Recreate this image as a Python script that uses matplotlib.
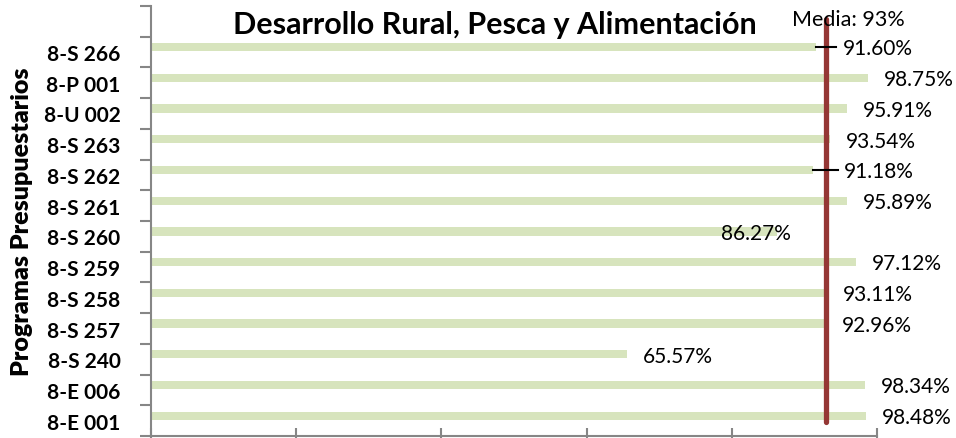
import numpy as np
import matplotlib
matplotlib.use("Agg")
import matplotlib.pyplot as plt

# bottom to top, as drawn in the chart
programas = ["8-E 001", "8-E 006", "8-S 240", "8-S 257", "8-S 258", "8-S 259",
             "8-S 260", "8-S 261", "8-S 262", "8-S 263", "8-U 002", "8-P 001",
             "8-S 266"]
valores = [98.48, 98.34, 65.57, 92.96, 93.11, 97.12,
           86.27, 95.89, 91.18, 93.54, 95.91, 98.75, 91.60]
media = 93

titulo = "Desarrollo Rural, Pesca y Alimentación"
eje_y = "Programas Presupuestarios"

# label offsets in pixels (bar end -> label left), leader length in pixels
label_dx = {"8-S 260": -56, "8-S 266": 27, "8-S 262": 31}
leader_px = {"8-S 266": 20, "8-S 262": 25}


def main():
    plt.rcParams["font.family"] = ["Lato", "DejaVu Sans"]
    fig = plt.figure(figsize=(9.56, 4.39), dpi=100, facecolor="w")
    ax = fig.add_axes([151 / 956, 2 / 439, 726 / 956, 430 / 439])

    y = np.arange(len(programas))
    px_per_x = 726 / 100.0
    ax.barh(y + 0.16, valores, height=0.27, color="#D7E4BD", zorder=2)

    ax.set_xlim(0, 100)
    ax.set_ylim(-0.5, len(programas) + 0.5)
    ax.set_xticks(np.arange(0, 101, 20))
    ax.set_xticklabels([])
    ax.set_yticks(y)
    ax.set_yticklabels(programas, fontsize=15, fontweight="bold")
    ax.set_yticks(np.arange(-0.5, len(programas) + 1), minor=True)
    ax.tick_params(axis="y", which="major", length=0, pad=22)
    ax.tick_params(axis="y", which="minor", length=8, color="#868686", width=1.5)
    ax.tick_params(axis="x", length=12, direction="inout", color="#868686", width=1.5)
    for s in ["top", "right"]:
        ax.spines[s].set_visible(False)
    for s in ["left", "bottom"]:
        ax.spines[s].set_color("#868686")
        ax.spines[s].set_linewidth(1.5)

    ax.set_ylabel(eje_y, fontsize=18, fontweight="heavy")
    ax.yaxis.set_label_coords(-0.163, 0.5)

    for yi, name, v in zip(y, programas, valores):
        dx = label_dx.get(name, 16)
        ax.annotate(f"{v:.2f}%", (v, yi + 0.12), xytext=(dx, 0),
                    textcoords="offset pixels", va="center", ha="left",
                    fontsize=15, zorder=5)
        if name in leader_px:
            ax.plot([v, v + leader_px[name] / px_per_x], [yi + 0.16, yi + 0.16],
                    color="black", lw=1.5, zorder=4)

    ax.plot([media, media], [-0.04, 13.08], color="#953735", lw=3.8,
            solid_capstyle="round", zorder=3)
    ax.annotate(f"Media: {media}%", (media, 13.08), xytext=(22, 0),
                textcoords="offset pixels", ha="center", va="center",
                fontsize=15.5, zorder=5)

    fig.text(495 / 956, 1 - 25 / 439, titulo, ha="center", va="center",
             fontsize=22, fontweight="bold")

    fig.savefig("out.png", dpi=100)
    plt.close(fig)


if __name__ == "__main__":
    main()
